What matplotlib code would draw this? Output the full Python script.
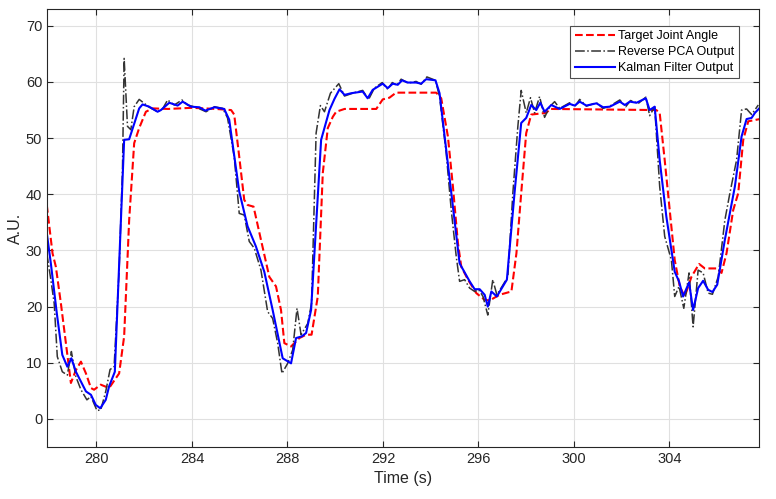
import matplotlib
matplotlib.use('Agg')
import matplotlib.pyplot as plt

plt.rcParams['font.family'] = ['Liberation Sans', 'DejaVu Sans']

# Target joint angle (red dashed)
t_target = [277.92, 278.16, 278.30, 278.51, 278.72, 278.93, 279.14, 279.35, 279.56, 279.77,
            279.90, 280.18, 280.53, 280.95, 281.16, 281.37, 281.58, 281.79, 282.07, 282.35,
            283.00, 284.00, 285.00, 285.64, 285.77, 285.98, 286.19, 286.33, 286.58, 286.89,
            287.24, 287.52, 287.73, 287.87, 288.15, 288.50, 288.78, 289.01, 289.27, 289.48,
            289.69, 289.90, 290.04, 290.39, 291.72, 291.99, 292.27, 292.55, 294.23, 294.44,
            294.72, 294.93, 295.14, 295.28, 295.56, 295.91, 296.26, 296.47, 296.88, 297.38,
            297.59, 297.79, 298.00, 298.21, 298.84, 299.00, 303.45, 303.59, 303.80, 304.01,
            304.22, 304.43, 304.64, 304.92, 305.24, 305.48, 305.97, 306.18, 306.39, 306.67,
            306.88, 307.09, 307.30, 307.79]
v_target = [38.1, 29.5, 27.1, 20.6, 13.5, 6.4, 8.7, 10.2, 8.1, 5.5,
            5.2, 6.1, 5.5, 8.1, 14.7, 35.4, 49.1, 51.8, 54.7, 55.3,
            55.2, 55.4, 55.2, 55.0, 54.2, 46.7, 39.0, 38.1, 37.8, 31.9,
            25.3, 23.6, 19.4, 13.5, 12.9, 14.4, 15.0, 15.0, 21.8, 43.8,
            51.8, 53.8, 54.7, 55.2, 55.2, 56.9, 57.2, 58.1, 58.1, 57.1,
            50.3, 41.4, 31.3, 27.1, 24.8, 22.4, 21.2, 21.1, 22.1, 22.7,
            29.5, 40.2, 50.9, 54.2, 54.5, 55.2, 55.0, 54.5, 46.1, 37.2,
            28.3, 23.6, 21.8, 25.3, 27.6, 26.8, 26.8, 26.0, 29.5, 37.2,
            40.2, 49.7, 53.0, 53.4]

# Reverse PCA output (black dash-dot)
t_pca = [277.92, 278.09, 278.23, 278.36, 278.57, 278.78, 278.95, 279.14, 279.35, 279.60,
         279.77, 280.02, 280.18, 280.39, 280.57, 280.74, 280.95, 281.09, 281.16, 281.30,
         281.44, 281.58, 281.79, 282.00, 282.21, 282.56, 282.77, 282.98, 283.26, 283.58,
         283.82, 284.17, 284.59, 284.94, 285.29, 285.49, 285.77, 285.98, 286.19, 286.40,
         286.61, 286.89, 287.17, 287.38, 287.59, 287.77, 288.01, 288.22, 288.40, 288.57,
         288.85, 289.01, 289.20, 289.38, 289.55, 289.80, 290.15, 290.39, 290.80, 291.15,
         291.40, 291.64, 291.97, 292.20, 292.39, 292.58, 292.76, 293.05, 293.39, 293.60,
         293.84, 294.20, 294.37, 294.65, 294.86, 295.07, 295.21, 295.42, 295.63, 295.84,
         296.02, 296.19, 296.39, 296.60, 296.77, 296.99, 297.23, 297.44, 297.65, 297.79,
         298.00, 298.18, 298.35, 298.56, 298.77, 298.98, 299.19, 299.40, 299.82, 300.03,
         300.24, 300.52, 300.94, 301.22, 301.50, 301.92, 302.17, 302.37, 302.70, 303.01,
         303.17, 303.38, 303.59, 303.80, 304.08, 304.22, 304.40, 304.60, 304.82, 304.99,
         305.20, 305.41, 305.62, 305.80, 306.04, 306.32, 306.53, 306.81, 307.02, 307.23,
         307.44, 307.72]
v_pca = [29.5, 24.8, 20.6, 11.1, 8.4, 7.8, 12.0, 7.5, 5.2, 3.4,
         4.0, 1.5, 1.6, 4.9, 8.8, 9.3, 26.5, 44.4, 64.2, 52.1,
         51.5, 55.6, 56.9, 56.2, 55.5, 54.7, 55.2, 56.8, 55.9, 56.8,
         55.9, 55.5, 54.7, 55.6, 55.3, 53.6, 46.7, 36.6, 36.3, 31.6,
         30.4, 26.5, 19.1, 17.9, 13.5, 8.1, 9.9, 12.3, 19.7, 15.0,
         17.0, 20.6, 50.9, 55.8, 54.7, 58.0, 59.7, 57.5, 58.1, 58.5,
         56.9, 58.9, 59.9, 58.7, 59.9, 59.4, 60.5, 59.8, 60.1, 59.6,
         60.9, 60.3, 57.4, 47.3, 37.2, 28.9, 24.5, 24.8, 23.3, 22.7,
         23.0, 21.8, 18.5, 24.8, 22.1, 23.6, 25.3, 40.2, 52.1, 58.5,
         54.5, 57.2, 54.5, 57.4, 53.7, 55.6, 56.5, 55.3, 56.3, 55.6,
         56.9, 55.7, 56.3, 55.3, 55.7, 56.8, 55.6, 56.7, 56.2, 57.3,
         54.0, 55.6, 41.4, 32.5, 28.3, 21.8, 23.6, 19.7, 26.0, 16.4,
         26.5, 26.0, 22.4, 22.2, 25.3, 35.4, 40.2, 46.1, 55.0, 55.2,
         54.2, 55.9]

# Kalman filter output (blue solid)
t_kf = [277.92, 278.09, 278.34, 278.57, 278.78, 278.95, 279.14, 279.56, 279.77, 279.97,
        280.16, 280.39, 280.53, 280.77, 281.16, 281.37, 281.79, 281.93, 282.21, 282.56,
        282.70, 283.05, 283.40, 283.61, 283.96, 284.31, 284.56, 284.94, 285.35, 285.56,
        285.98, 286.33, 286.68, 287.03, 287.38, 287.80, 288.15, 288.36, 288.60, 288.78,
        288.99, 289.41, 289.76, 289.97, 290.18, 290.39, 290.67, 291.15, 291.36, 291.57,
        291.99, 292.20, 292.41, 292.62, 292.80, 293.04, 293.39, 293.60, 293.81, 294.20,
        294.37, 295.21, 295.63, 295.84, 296.05, 296.26, 296.39, 296.54, 296.77, 297.19,
        297.51, 297.79, 298.00, 298.21, 298.42, 298.59, 298.77, 299.05, 299.40, 299.82,
        300.03, 300.24, 300.52, 300.94, 301.22, 301.50, 301.92, 302.13, 302.34, 302.62,
        303.01, 303.17, 303.38, 303.59, 303.87, 304.22, 304.40, 304.57, 304.82, 304.99,
        305.20, 305.41, 305.62, 305.80, 306.00, 306.32, 306.74, 307.02, 307.23, 307.44,
        307.58, 307.76]
v_kf = [33.1, 27.7, 18.8, 11.4, 9.3, 10.8, 8.4, 4.9, 4.3, 2.5,
        1.9, 3.4, 5.8, 8.4, 49.7, 49.8, 55.3, 56.0, 55.6, 54.7,
        55.0, 56.3, 55.8, 56.5, 55.6, 55.5, 54.9, 55.5, 55.2, 53.3,
        40.5, 34.3, 30.7, 26.2, 19.4, 10.8, 9.9, 14.4, 14.7, 15.3,
        19.4, 49.7, 55.0, 57.0, 58.7, 57.7, 58.0, 58.3, 57.1, 58.6,
        59.7, 58.9, 59.7, 59.5, 60.3, 59.9, 59.9, 59.7, 60.5, 60.3,
        58.0, 27.7, 24.5, 23.1, 23.1, 22.1, 20.0, 22.7, 21.8, 24.8,
        40.2, 52.7, 53.6, 55.9, 55.0, 56.3, 54.7, 55.9, 55.2, 56.1,
        55.8, 56.5, 55.8, 56.2, 55.5, 55.6, 56.5, 55.9, 56.5, 56.3,
        57.1, 55.0, 55.6, 46.1, 36.0, 26.2, 24.5, 21.8, 24.3, 19.4,
        23.3, 24.6, 23.0, 22.6, 23.9, 31.9, 41.4, 50.3, 53.4, 53.6,
        54.5, 55.3]

x_ticks = [280, 284, 288, 292, 296, 300, 304]
y_ticks = [0, 10, 20, 30, 40, 50, 60, 70]

fig = plt.figure(figsize=(7.76, 4.99), dpi=100)
ax = fig.add_axes([0.0606, 0.1042, 0.9175, 0.8778])

ax.plot(t_target, v_target, '--', color=(1, 0, 0), lw=1.5, label='Target Joint Angle')
ax.plot(t_pca, v_pca, '-.', color=(0.2, 0.2, 0.2), lw=1.1, label='Reverse PCA Output')
ax.plot(t_kf, v_kf, '-', color=(0, 0, 1), lw=1.5, label='Kalman Filter Output')

ax.set_xlim(277.93, 307.75)
ax.set_ylim(-5, 73)
ax.set_xticks(x_ticks)
ax.set_yticks(y_ticks)
ax.grid(True, color=(0.88, 0.88, 0.88), lw=0.8)
ax.set_axisbelow(True)
ax.tick_params(direction='in', top=True, right=True, length=4, labelsize=10.5,
               colors=(0.15, 0.15, 0.15))
for s in ax.spines.values():
    s.set_color((0.15, 0.15, 0.15))
    s.set_linewidth(0.8)

ax.set_xlabel('Time (s)', fontsize=11.5, color=(0.15, 0.15, 0.15), labelpad=4)
ax.set_ylabel('A.U.', fontsize=11.5, color=(0.15, 0.15, 0.15), labelpad=2)

leg = ax.legend(loc='upper right', bbox_to_anchor=(739 / 776, (499 - 26) / 499),
                bbox_transform=fig.transFigure, fontsize=9, handlelength=3.2,
                fancybox=False, framealpha=1, edgecolor=(0.3, 0.3, 0.3),
                borderpad=0.35, labelspacing=0.3, handletextpad=0.3, borderaxespad=0)
leg.get_frame().set_linewidth(0.8)

fig.savefig('out.png', dpi=100)
